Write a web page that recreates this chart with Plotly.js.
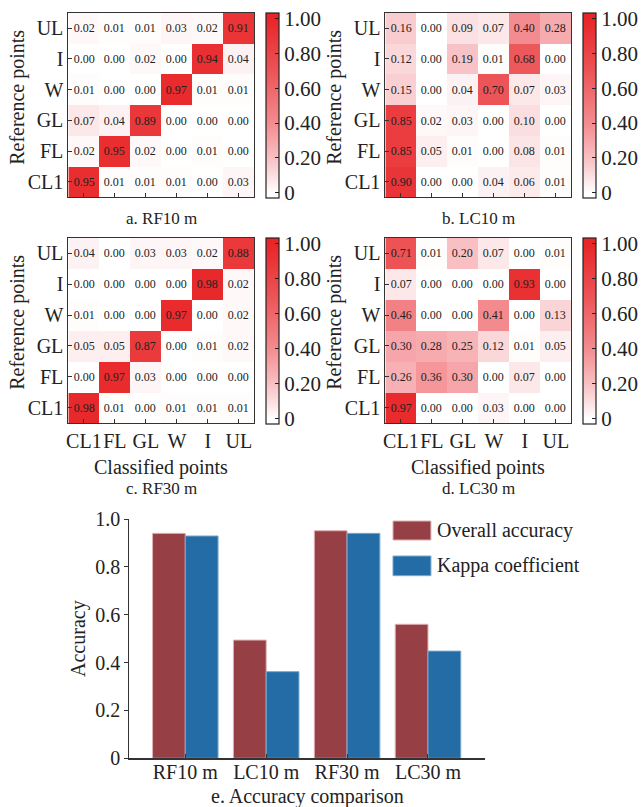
<!DOCTYPE html>
<html>
<head>
<meta charset="utf-8">
<script src="https://cdn.plot.ly/plotly-3.0.1.min.js"></script>
<style>html,body{margin:0;padding:0;background:#fff;}#chart{width:643px;height:807px;}</style>
</head>
<body>
<div id="chart"></div>
<script>
// ---------- data ----------
const classes = ["CL1", "FL", "GL", "W", "I", "UL"];   // bottom -> top for rows, left -> right for columns

// rows listed bottom (CL1) to top (UL); columns CL1, FL, GL, W, I, UL
const rf10 = [
  [0.95, 0.01, 0.01, 0.01, 0.00, 0.03],
  [0.02, 0.95, 0.02, 0.00, 0.01, 0.00],
  [0.07, 0.04, 0.89, 0.00, 0.00, 0.00],
  [0.01, 0.00, 0.00, 0.97, 0.01, 0.01],
  [0.00, 0.00, 0.02, 0.00, 0.94, 0.04],
  [0.02, 0.01, 0.01, 0.03, 0.02, 0.91]
];
const lc10 = [
  [0.90, 0.00, 0.00, 0.04, 0.06, 0.01],
  [0.85, 0.05, 0.01, 0.00, 0.08, 0.01],
  [0.85, 0.02, 0.03, 0.00, 0.10, 0.00],
  [0.15, 0.00, 0.04, 0.70, 0.07, 0.03],
  [0.12, 0.00, 0.19, 0.01, 0.68, 0.00],
  [0.16, 0.00, 0.09, 0.07, 0.40, 0.28]
];
const rf30 = [
  [0.98, 0.01, 0.00, 0.01, 0.01, 0.01],
  [0.00, 0.97, 0.03, 0.00, 0.00, 0.00],
  [0.05, 0.05, 0.87, 0.00, 0.01, 0.02],
  [0.01, 0.00, 0.00, 0.97, 0.00, 0.02],
  [0.00, 0.00, 0.00, 0.00, 0.98, 0.02],
  [0.04, 0.00, 0.03, 0.03, 0.02, 0.88]
];
const lc30 = [
  [0.97, 0.00, 0.00, 0.03, 0.00, 0.00],
  [0.26, 0.36, 0.30, 0.00, 0.07, 0.00],
  [0.30, 0.28, 0.25, 0.12, 0.01, 0.05],
  [0.46, 0.00, 0.00, 0.41, 0.00, 0.13],
  [0.07, 0.00, 0.00, 0.00, 0.93, 0.00],
  [0.71, 0.01, 0.20, 0.07, 0.00, 0.01]
];

const methods = ["RF10 m", "LC10 m", "RF30 m", "LC30 m"];
const overallAccuracy = [0.940, 0.494, 0.951, 0.560];
const kappaCoefficient = [0.929, 0.362, 0.940, 0.448];

const cbTickVals = [0, 0.2, 0.4, 0.6, 0.8, 1.0];
const cbTickText = ["0", "0.20", "0.40", "0.60", "0.80", "1.00"];
const barTickVals = [0, 0.2, 0.4, 0.6, 0.8, 1.0];
const barTickText = ["0", "0.2", "0.4", "0.6", "0.8", "1.0"];

// ---------- styling ----------
const W = 643, H = 807;
const FONT = "'Liberation Serif', 'Times New Roman', serif";
const TXT = "#222";
const px = v => v / W;
const py = v => 1 - v / H;

const ZMIN = -0.03, ZMAX = 1.035;
const zpos = v => (v - ZMIN) / (ZMAX - ZMIN);
const colorscale = [
  [0, "rgb(255,255,255)"],
  [zpos(0), "rgb(255,255,255)"],
  [zpos(0.1), "rgb(251,222,224)"],
  [zpos(0.2), "rgb(248,192,195)"],
  [zpos(0.4), "rgb(243,140,144)"],
  [zpos(0.7), "rgb(237,84,87)"],
  [zpos(1.0), "rgb(232,38,40)"],
  [1, "rgb(232,38,40)"]
];

const panels = [
  {z: rf10, xa: "x", ya: "y", x0: 69, x1: 256.7, y0: 12.7, y1: 197.3, labels: false},
  {z: lc10, xa: "x2", ya: "y2", x0: 389, x1: 576.7, y0: 12.7, y1: 197.3, labels: false},
  {z: rf30, xa: "x3", ya: "y3", x0: 69, x1: 256.7, y0: 237.7, y1: 423.3, labels: true},
  {z: lc30, xa: "x4", ya: "y4", x0: 389, x1: 576.7, y0: 237.7, y1: 423.3, labels: true}
];

const traces = [];
const layout = {
  width: W, height: H,
  margin: {l: 0, r: 0, t: 0, b: 0},
  paper_bgcolor: "#fff", plot_bgcolor: "#fff",
  font: {family: FONT, color: TXT, size: 20},
  showlegend: false,
  annotations: [], shapes: []
};

panels.forEach((p, i) => {
  traces.push({
    type: "heatmap",
    x: classes, y: classes, z: p.z,
    xaxis: p.xa, yaxis: p.ya,
    zmin: ZMIN, zmax: ZMAX,
    colorscale: colorscale,
    texttemplate: "%{z:.2f}",
    textfont: {family: FONT, size: 12, color: TXT},
    hoverinfo: "skip",
    colorbar: {
      x: px(p.x1 + 11.6), xanchor: "left", xpad: 0, ypad: 0,
      y: py(p.y0), yanchor: "top",
      len: (p.y1 - p.y0 + 0.4) / H, lenmode: "fraction",
      thickness: 12.5, thicknessmode: "pixels",
      outlinewidth: 1.2, outlinecolor: "#222",
      tickmode: "array", tickvals: cbTickVals, ticktext: cbTickText,
      ticks: "inside", ticklen: 4, tickcolor: "#222",
      tickfont: {family: FONT, size: 21, color: TXT}
    }
  });
  const sfx = i === 0 ? "" : String(i + 1);
  layout["xaxis" + sfx] = {
    domain: [px(p.x0), px(p.x1)], anchor: p.ya,
    type: "category", categoryorder: "array", categoryarray: classes,
    showline: true, mirror: true, linecolor: "#333", linewidth: 1,
    ticks: "inside", ticklen: 4, tickcolor: "#333", tickangle: 0,
    showticklabels: p.labels, showgrid: false, zeroline: false,
    tickfont: {family: FONT, size: 20, color: TXT}, fixedrange: true
  };
  layout["yaxis" + sfx] = {
    domain: [py(p.y1), py(p.y0)], anchor: p.xa,
    type: "category", categoryorder: "array", categoryarray: classes,
    showline: true, mirror: true, linecolor: "#333", linewidth: 1,
    ticks: "inside", ticklen: 4, tickcolor: "#333",
    showgrid: false, zeroline: false,
    tickfont: {family: FONT, size: 20, color: TXT}, fixedrange: true
  };
  // y-axis title
  layout.annotations.push({
    xref: "paper", yref: "paper", x: px(p.x0 - 51.5), y: py(p.y0 + 84.8),
    text: "Reference points", textangle: -90, showarrow: false,
    xanchor: "center", yanchor: "middle",
    font: {family: FONT, size: 20, color: TXT}
  });
});

// panel captions
const caption = (text, x, y, size) => ({
  xref: "paper", yref: "paper", x: px(x), y: py(y), text: text, showarrow: false,
  xanchor: "center", yanchor: "middle", font: {family: FONT, size: size, color: TXT}
});
layout.annotations.push(caption("a. RF10 m", 162.8, 218.3, 17));
layout.annotations.push(caption("b. LC10 m", 482.8, 218.3, 17));
layout.annotations.push(caption("Classified points", 162.8, 467.7, 20));
layout.annotations.push(caption("Classified points", 482.8, 467.7, 20));
layout.annotations.push(caption("c. RF30 m", 162.8, 488.3, 17));
layout.annotations.push(caption("d. LC30 m", 482.8, 488.3, 17));
layout.annotations.push(caption("e. Accuracy comparison", 310.3, 796, 20));

// ---------- bar chart ----------
const RED = "#964046", BLUE = "#236ca6";
traces.push({
  type: "bar", name: "Overall accuracy", x: methods, y: overallAccuracy,
  xaxis: "x5", yaxis: "y5",
  marker: {color: RED, line: {color: "rgb(222,176,180)", width: 1}},
  hoverinfo: "skip"
});
traces.push({
  type: "bar", name: "Kappa coefficient", x: methods, y: kappaCoefficient,
  xaxis: "x5", yaxis: "y5",
  marker: {color: BLUE, line: {color: "rgb(120,168,206)", width: 1}},
  hoverinfo: "skip"
});
layout.barmode = "group";
layout.bargap = 0.19;
layout.bargroupgap = 0;
layout.xaxis5 = {
  domain: [px(130.7), px(490)], anchor: "y5",
  type: "category", range: [-0.69, 3.71],
  showline: true, linecolor: "#333", linewidth: 1.2,
  ticks: "inside", ticklen: 4, tickcolor: "#333", tickangle: 0,
  ticklabelstandoff: -5,
  showgrid: false, zeroline: false,
  tickfont: {family: FONT, size: 20, color: TXT}, fixedrange: true
};
layout.yaxis5 = {
  domain: [py(758.3), py(519)], anchor: "x5",
  range: [0, 1.0],
  showline: true, linecolor: "#333", linewidth: 1.2,
  ticks: "outside", ticklen: 4, tickcolor: "#333",
  tickmode: "array", tickvals: barTickVals, ticktext: barTickText,
  showgrid: false, zeroline: false,
  tickfont: {family: FONT, size: 20, color: TXT}, fixedrange: true,
  title: {text: "Accuracy", font: {family: FONT, size: 20, color: TXT}, standoff: 4}
};

// legend (drawn as keys next to the bars)
const legendItems = [
  {label: "Overall accuracy", color: RED, line: "rgb(222,176,180)", y0: 521, y1: 540},
  {label: "Kappa coefficient", color: BLUE, line: "rgb(120,168,206)", y0: 556, y1: 575.7}
];
legendItems.forEach(it => {
  layout.shapes.push({
    type: "rect", xref: "paper", yref: "paper",
    x0: px(396.7), x1: px(435), y0: py(it.y1), y1: py(it.y0),
    fillcolor: it.color, line: {color: it.line, width: 1}
  });
  layout.annotations.push({
    xref: "paper", yref: "paper", x: px(439), y: py((it.y0 + it.y1) / 2),
    text: it.label, showarrow: false, xanchor: "left", yanchor: "middle",
    font: {family: FONT, size: 20, color: TXT}
  });
});

Plotly.newPlot("chart", traces, layout, {displayModeBar: false, staticPlot: true});
</script>
</body>
</html>
